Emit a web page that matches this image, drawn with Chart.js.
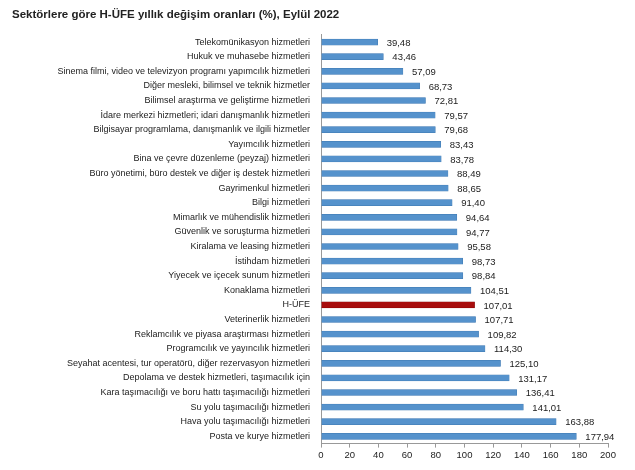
<!DOCTYPE html>
<html>
<head>
<meta charset="utf-8">
<script src="https://cdn.jsdelivr.net/npm/chart.js@4"></script>
<style>
    html, body { margin: 0; padding: 0; background: #fff; }
    #wrap { width: 635px; height: 470px; }
</style>
</head>
<body>
<div id="wrap"><canvas id="hufeChart" width="635" height="470"></canvas></div>
<script>
// Sektör adları (yukarıdan aşağıya)
const sectors = [
    'Telekomünikasyon hizmetleri',
    'Hukuk ve muhasebe hizmetleri',
    'Sinema filmi, video ve televizyon programı yapımcılık hizmetleri',
    'Diğer mesleki, bilimsel ve teknik hizmetler',
    'Bilimsel araştırma ve geliştirme hizmetleri',
    'İdare merkezi hizmetleri; idari danışmanlık hizmetleri',
    'Bilgisayar programlama, danışmanlık ve ilgili hizmetler',
    'Yayımcılık hizmetleri',
    'Bina ve çevre düzenleme (peyzaj) hizmetleri',
    'Büro yönetimi, büro destek ve diğer iş destek hizmetleri',
    'Gayrimenkul hizmetleri',
    'Bilgi hizmetleri',
    'Mimarlık ve mühendislik hizmetleri',
    'Güvenlik ve soruşturma hizmetleri',
    'Kiralama ve leasing hizmetleri',
    'İstihdam hizmetleri',
    'Yiyecek ve içecek sunum hizmetleri',
    'Konaklama hizmetleri',
    'H-ÜFE',
    'Veterinerlik hizmetleri',
    'Reklamcılık ve piyasa araştırması hizmetleri',
    'Programcılık ve yayıncılık hizmetleri',
    'Seyahat acentesi, tur operatörü, diğer rezervasyon hizmetleri',
    'Depolama ve destek hizmetleri, taşımacılık için',
    'Kara taşımacılığı ve boru hattı taşımacılığı hizmetleri',
    'Su yolu taşımacılığı hizmetleri',
    'Hava yolu taşımacılığı hizmetleri',
    'Posta ve kurye hizmetleri'
];

// Yıllık değişim oranları (%)
const rates = [
    39.48, 43.46, 57.09, 68.73, 72.81, 79.57, 79.68, 83.43, 83.78, 88.49,
    88.65, 91.40, 94.64, 94.77, 95.58, 98.73, 98.84, 104.51, 107.01, 107.71,
    109.82, 114.30, 125.10, 131.17, 136.41, 141.01, 163.88, 177.94
];

const totalLabel = 'H-ÜFE';
const xTicks = [0, 20, 40, 60, 80, 100, 120, 140, 160, 180, 200];

const blue = '#5592cc';
const red = '#a80d0d';
const barColors = sectors.map(s => s === totalLabel ? red : blue);
const edgeColors = sectors.map(s => s === totalLabel ? '#7a0000' : '#3f78b0');

// Çubukların ucuna değerleri yaz (virgüllü)
const valueLabels = {
    id: 'valueLabels',
    afterDatasetsDraw(chart) {
        const ctx = chart.ctx;
        const meta = chart.getDatasetMeta(0);
        ctx.save();
        ctx.font = '9.5px "Liberation Sans", Arial, sans-serif';
        ctx.fillStyle = '#222';
        ctx.textBaseline = 'middle';
        ctx.textAlign = 'left';
        meta.data.forEach((bar, i) => {
            const txt = rates[i].toFixed(2).replace('.', ',');
            ctx.fillText(txt, bar.x + 9, bar.y + 1);
        });
        ctx.restore();
    }
};

const ctx = document.getElementById('hufeChart').getContext('2d');

new Chart(ctx, {
    type: 'bar',
    data: {
        labels: sectors,
        datasets: [{
            data: rates,
            backgroundColor: barColors,
            borderColor: edgeColors,
            borderWidth: 0.5,
            barThickness: 6
        }]
    },
    options: {
        indexAxis: 'y',
        responsive: false,
        animation: false,
        layout: {
            padding: { left: 12, right: 27, top: 0, bottom: 7 }
        },
        scales: {
            x: {
                min: 0,
                max: 200,
                afterBuildTicks: scale => {
                    scale.ticks = xTicks.map(v => ({ value: v }));
                },
                grid: {
                    drawOnChartArea: false,
                    drawTicks: true,
                    tickLength: 4,
                    color: '#999'
                },
                border: { color: '#999' },
                ticks: {
                    padding: 2,
                    color: '#222',
                    font: { family: '"Liberation Sans", Arial, sans-serif', size: 9.5 }
                }
            },
            y: {
                afterFit: scale => { scale.width = 309; },
                grid: { display: false },
                border: { display: true, color: '#999' },
                ticks: {
                    padding: 3,
                    autoSkip: false,
                    color: '#222',
                    font: { family: '"Liberation Sans", Arial, sans-serif', size: 9 }
                }
            }
        },
        plugins: {
            legend: { display: false },
            tooltip: { enabled: false },
            title: {
                display: true,
                align: 'start',
                text: 'Sektörlere göre H-ÜFE yıllık değişim oranları (%), Eylül 2022',
                color: '#222',
                font: { family: '"Liberation Sans", Arial, sans-serif', size: 11.5, weight: 'bold' },
                padding: { top: 8, bottom: 13 }
            }
        }
    },
    plugins: [valueLabels]
});
</script>
</body>
</html>
